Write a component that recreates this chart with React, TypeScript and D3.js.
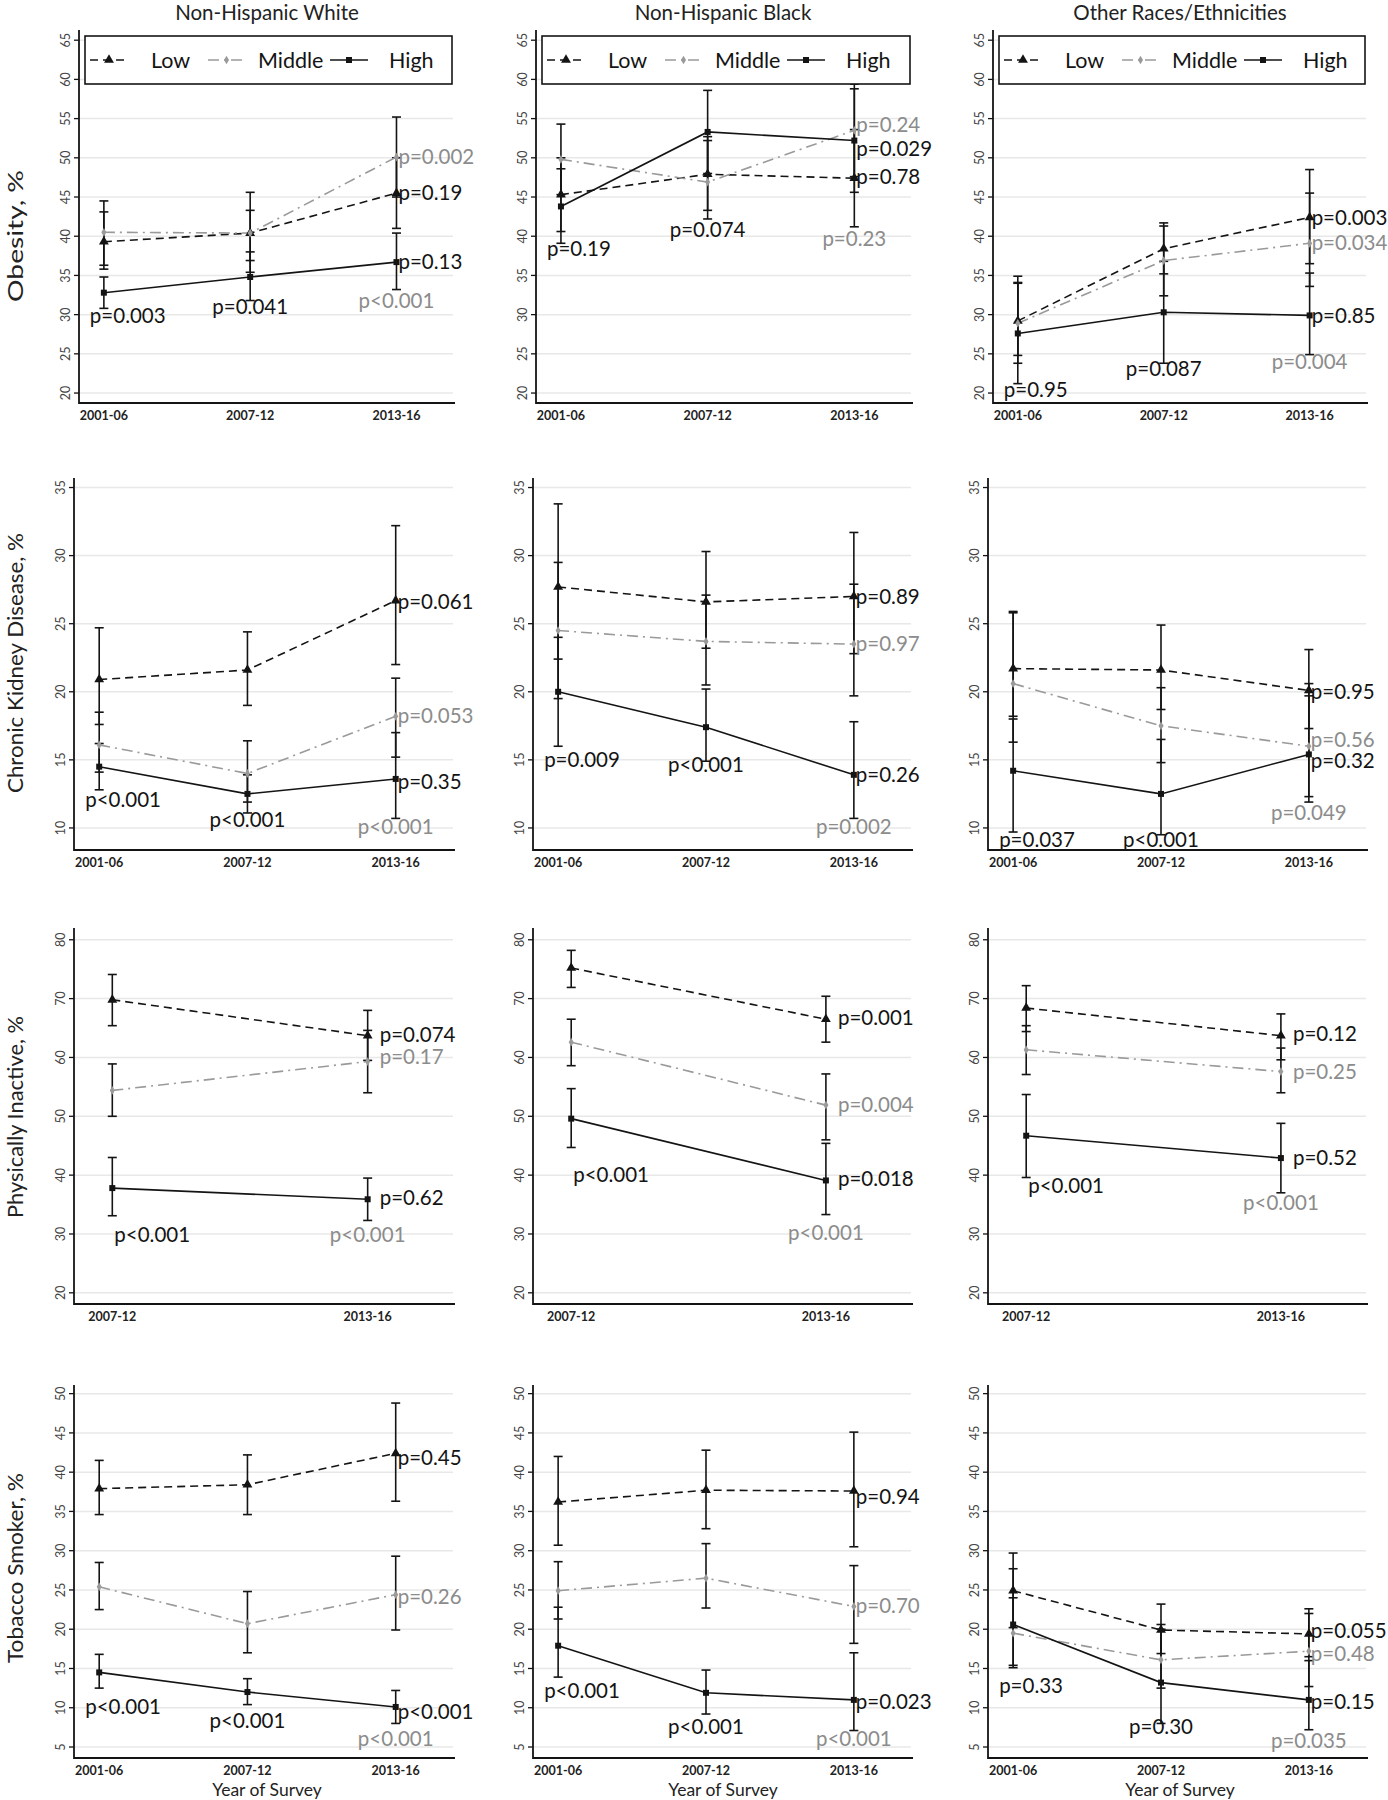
import React from 'react';
import * as d3 from 'd3';

type Triple = [number, number, number]; // [estimate, lower CI, upper CI]

// ---------- categories / labels ----------
const periodsAll = ['2001-06', '2007-12', '2013-16'];
const periodsPA = ['2007-12', '2013-16'];
const raceGroups = ['Non-Hispanic White', 'Non-Hispanic Black', 'Other Races/Ethnicities'];
const outcomeLabels = ['Obesity, %', 'Chronic Kidney Disease, %', 'Physically Inactive, %', 'Tobacco Smoker, %'];
const incomeLevels = ['Low', 'Middle', 'High'];
const xAxisTitle = 'Year of Survey';

// ---------- y tick labels per outcome ----------
const yTicksObesity = [20, 25, 30, 35, 40, 45, 50, 55, 60, 65];
const yTicksCKD = [10, 15, 20, 25, 30, 35];
const yTicksInactive = [20, 30, 40, 50, 60, 70, 80];
const yTicksSmoker = [5, 10, 15, 20, 25, 30, 35, 40, 45, 50];

// ---------- Obesity ----------
const obWhiteLow: Triple[] = [[39.3, 35.8, 43.1], [40.4, 36.9, 43.3], [45.5, 41.0, 50.0]];
const obWhiteMid: Triple[] = [[40.5, 36.3, 44.5], [40.4, 35.4, 45.6], [50.1, 45.0, 55.2]];
const obWhiteHigh: Triple[] = [[32.8, 30.8, 34.8], [34.8, 31.8, 38.0], [36.7, 33.2, 40.4]];
const obWhiteTrendP = ['p=0.19', 'p=0.002', 'p=0.13'];
const obWhiteTrendAt = [45.5, 50.1, 36.7];
const obWhiteGapP = ['p=0.003', 'p=0.041', 'p<0.001'];
const obWhiteGapAt = [29.9, 31.0, 31.8];

const obBlackLow: Triple[] = [[45.3, 40.6, 50.0], [47.9, 43.3, 52.7], [47.4, 41.2, 53.6]];
const obBlackMid: Triple[] = [[49.8, 45.3, 54.3], [46.9, 42.2, 52.2], [53.5, 47.6, 59.4]];
const obBlackHigh: Triple[] = [[43.8, 39.1, 48.6], [53.3, 48.0, 58.6], [52.2, 45.6, 58.8]];
const obBlackTrendP = ['p=0.78', 'p=0.24', 'p=0.029'];
const obBlackTrendAt = [47.6, 54.2, 51.2];
const obBlackGapP = ['p=0.19', 'p=0.074', 'p=0.23'];
const obBlackGapAt = [38.4, 40.8, 39.7];

const obOtherLow: Triple[] = [[29.2, 24.8, 34.9], [38.4, 35.2, 41.7], [42.4, 36.5, 48.5]];
const obOtherMid: Triple[] = [[28.9, 23.8, 34.1], [36.9, 32.4, 41.3], [39.1, 33.6, 45.5]];
const obOtherHigh: Triple[] = [[27.6, 21.2, 34.0], [30.3, 23.8, 36.8], [29.9, 24.9, 35.3]];
const obOtherTrendP = ['p=0.003', 'p=0.034', 'p=0.85'];
const obOtherTrendAt = [42.3, 39.1, 29.9];
const obOtherGapP = ['p=0.95', 'p=0.087', 'p=0.004'];
const obOtherGapAt = [20.4, 23.1, 24.0];

// ---------- Chronic kidney disease ----------
const ckdWhiteLow: Triple[] = [[20.9, 17.6, 24.7], [21.6, 19.0, 24.4], [26.7, 22.0, 32.2]];
const ckdWhiteMid: Triple[] = [[16.1, 14.1, 18.5], [14.0, 11.9, 16.4], [18.2, 15.2, 21.0]];
const ckdWhiteHigh: Triple[] = [[14.5, 12.8, 16.2], [12.5, 11.1, 13.9], [13.6, 10.7, 17.0]];
const ckdWhiteTrendP = ['p=0.061', 'p=0.053', 'p=0.35'];
const ckdWhiteTrendAt = [26.6, 18.2, 13.4];
const ckdWhiteGapP = ['p<0.001', 'p<0.001', 'p<0.001'];
const ckdWhiteGapAt = [12.1, 10.6, 10.1];

const ckdBlackLow: Triple[] = [[27.7, 22.4, 33.8], [26.6, 23.2, 30.3], [27.0, 22.8, 31.7]];
const ckdBlackMid: Triple[] = [[24.5, 19.5, 29.5], [23.7, 20.5, 27.1], [23.5, 19.7, 27.9]];
const ckdBlackHigh: Triple[] = [[20.0, 16.0, 24.0], [17.4, 14.9, 20.2], [13.9, 10.7, 17.8]];
const ckdBlackTrendP = ['p=0.89', 'p=0.97', 'p=0.26'];
const ckdBlackTrendAt = [27.0, 23.5, 13.9];
const ckdBlackGapP = ['p=0.009', 'p<0.001', 'p=0.002'];
const ckdBlackGapAt = [15.0, 14.6, 10.1];

const ckdOtherLow: Triple[] = [[21.7, 18.2, 25.9], [21.6, 18.7, 24.9], [20.1, 17.3, 23.1]];
const ckdOtherMid: Triple[] = [[20.6, 16.3, 25.8], [17.5, 14.8, 20.3], [16.0, 12.3, 19.7]];
const ckdOtherHigh: Triple[] = [[14.2, 9.7, 18.0], [12.5, 9.5, 16.5], [15.4, 11.9, 20.6]];
const ckdOtherTrendP = ['p=0.95', 'p=0.56', 'p=0.32'];
const ckdOtherTrendAt = [20.0, 16.5, 14.9];
const ckdOtherGapP = ['p=0.037', 'p<0.001', 'p=0.049'];
const ckdOtherGapAt = [9.1, 9.1, 11.1];

// ---------- Physically inactive (2007-12, 2013-16) ----------
const paWhiteLow: Triple[] = [[69.8, 65.4, 74.1], [63.7, 59.5, 68.0]];
const paWhiteMid: Triple[] = [[54.4, 50.0, 58.9], [59.3, 54.0, 64.6]];
const paWhiteHigh: Triple[] = [[37.8, 33.1, 43.0], [35.9, 32.3, 39.5]];
const paWhiteTrendP = ['p=0.074', 'p=0.17', 'p=0.62'];
const paWhiteTrendAt = [63.9, 60.1, 36.1];
const paWhiteGapP = ['p<0.001', 'p<0.001'];
const paWhiteGapAt = [29.9, 29.9];

const paBlackLow: Triple[] = [[75.2, 71.9, 78.2], [66.5, 62.6, 70.4]];
const paBlackMid: Triple[] = [[62.6, 58.6, 66.5], [51.9, 46.0, 57.2]];
const paBlackHigh: Triple[] = [[49.6, 44.7, 54.7], [39.1, 33.3, 45.4]];
const paBlackTrendP = ['p=0.001', 'p=0.004', 'p=0.018'];
const paBlackTrendAt = [66.7, 52.0, 39.3];
const paBlackGapP = ['p<0.001', 'p<0.001'];
const paBlackGapAt = [40.1, 30.2];

const paOtherLow: Triple[] = [[68.4, 64.4, 72.2], [63.7, 59.6, 67.4]];
const paOtherMid: Triple[] = [[61.3, 57.1, 65.4], [57.6, 54.0, 61.6]];
const paOtherHigh: Triple[] = [[46.7, 39.6, 53.7], [42.9, 37.0, 48.8]];
const paOtherTrendP = ['p=0.12', 'p=0.25', 'p=0.52'];
const paOtherTrendAt = [64.0, 57.6, 42.9];
const paOtherGapP = ['p<0.001', 'p<0.001'];
const paOtherGapAt = [38.1, 35.3];

// ---------- Tobacco smoker ----------
const smWhiteLow: Triple[] = [[37.9, 34.6, 41.5], [38.4, 34.6, 42.2], [42.4, 36.3, 48.8]];
const smWhiteMid: Triple[] = [[25.4, 22.5, 28.5], [20.7, 17.0, 24.8], [24.4, 19.9, 29.3]];
const smWhiteHigh: Triple[] = [[14.5, 12.5, 16.8], [12.0, 10.4, 13.7], [10.1, 8.0, 12.2]];
const smWhiteTrendP = ['p=0.45', 'p=0.26', 'p<0.001'];
const smWhiteTrendAt = [41.8, 24.1, 9.5];
const smWhiteGapP = ['p<0.001', 'p<0.001', 'p<0.001'];
const smWhiteGapAt = [10.1, 8.3, 6.0];

const smBlackLow: Triple[] = [[36.2, 30.7, 42.0], [37.7, 32.8, 42.8], [37.6, 30.5, 45.1]];
const smBlackMid: Triple[] = [[24.9, 21.3, 28.6], [26.5, 22.7, 30.9], [22.9, 18.2, 28.1]];
const smBlackHigh: Triple[] = [[17.9, 13.9, 22.8], [11.9, 9.2, 14.8], [11.0, 7.1, 17.0]];
const smBlackTrendP = ['p=0.94', 'p=0.70', 'p=0.023'];
const smBlackTrendAt = [36.9, 23.0, 10.8];
const smBlackGapP = ['p<0.001', 'p<0.001', 'p<0.001'];
const smBlackGapAt = [12.1, 7.6, 6.0];

const smOtherLow: Triple[] = [[24.9, 20.2, 29.7], [19.9, 16.9, 23.2], [19.4, 16.5, 22.6]];
const smOtherMid: Triple[] = [[19.5, 15.1, 24.0], [16.1, 12.5, 20.6], [17.2, 12.7, 22.0]];
const smOtherHigh: Triple[] = [[20.6, 15.4, 27.7], [13.2, 8.0, 20.0], [11.0, 7.2, 16.0]];
const smOtherTrendP = ['p=0.055', 'p=0.48', 'p=0.15'];
const smOtherTrendAt = [19.8, 16.9, 10.7];
const smOtherGapP = ['p=0.33', 'p=0.30', 'p=0.035'];
const smOtherGapAt = [12.8, 7.6, 5.8];

// ---------- panel table built from the arrays ----------
type PanelCfg = {
  row: number; col: number; periods: string[]; ticks: number[];
  series: Triple[][]; trendP: string[]; trendAt: number[]; gapP: string[]; gapAt: number[];
};
const rowPeriods = [periodsAll, periodsAll, periodsPA, periodsAll];
const rowTicks = [yTicksObesity, yTicksCKD, yTicksInactive, yTicksSmoker];
const panelData: [Triple[][], string[], number[], string[], number[]][][] = [
  [
    [[obWhiteLow, obWhiteMid, obWhiteHigh], obWhiteTrendP, obWhiteTrendAt, obWhiteGapP, obWhiteGapAt],
    [[obBlackLow, obBlackMid, obBlackHigh], obBlackTrendP, obBlackTrendAt, obBlackGapP, obBlackGapAt],
    [[obOtherLow, obOtherMid, obOtherHigh], obOtherTrendP, obOtherTrendAt, obOtherGapP, obOtherGapAt],
  ],
  [
    [[ckdWhiteLow, ckdWhiteMid, ckdWhiteHigh], ckdWhiteTrendP, ckdWhiteTrendAt, ckdWhiteGapP, ckdWhiteGapAt],
    [[ckdBlackLow, ckdBlackMid, ckdBlackHigh], ckdBlackTrendP, ckdBlackTrendAt, ckdBlackGapP, ckdBlackGapAt],
    [[ckdOtherLow, ckdOtherMid, ckdOtherHigh], ckdOtherTrendP, ckdOtherTrendAt, ckdOtherGapP, ckdOtherGapAt],
  ],
  [
    [[paWhiteLow, paWhiteMid, paWhiteHigh], paWhiteTrendP, paWhiteTrendAt, paWhiteGapP, paWhiteGapAt],
    [[paBlackLow, paBlackMid, paBlackHigh], paBlackTrendP, paBlackTrendAt, paBlackGapP, paBlackGapAt],
    [[paOtherLow, paOtherMid, paOtherHigh], paOtherTrendP, paOtherTrendAt, paOtherGapP, paOtherGapAt],
  ],
  [
    [[smWhiteLow, smWhiteMid, smWhiteHigh], smWhiteTrendP, smWhiteTrendAt, smWhiteGapP, smWhiteGapAt],
    [[smBlackLow, smBlackMid, smBlackHigh], smBlackTrendP, smBlackTrendAt, smBlackGapP, smBlackGapAt],
    [[smOtherLow, smOtherMid, smOtherHigh], smOtherTrendP, smOtherTrendAt, smOtherGapP, smOtherGapAt],
  ],
];
const panels: PanelCfg[] = [];
panelData.forEach((rowArr, r) =>
  rowArr.forEach(([series, trendP, trendAt, gapP, gapAt], c) =>
    panels.push({ row: r, col: c, periods: rowPeriods[r], ticks: rowTicks[r], series, trendP, trendAt, gapP, gapAt })
  )
);

// ---------- layout & style ----------
const W = 1388;
const H = 1800;
const FONT = 'Lato, "Open Sans", "DejaVu Sans", sans-serif';
const COL_RIGHT = [455, 913, 1368];
const COL_AXIS = [[79, 536, 993], [74, 533, 988], [74, 533, 988], [74, 533, 988]];
const ROW_BOX = [[30, 403], [478, 850], [928, 1304], [1385, 1758]];
const ROW_DOMAIN = [[18.73, 66.3], [8.38, 35.7], [18.1, 82], [3.6, 51.1]];
const ROW_YLABEL_CY = [236, 663, 1117, 1568];
const ROW_YLABEL_LEN = [132, 260, 202, 190];
const COL_TITLE_CX = [267, 723, 1180];

const BLACK = '#141414';
const GRAY_LINE = '#9a9a9a';
const GRAY_TEXT = '#8c8c8c';
const GRID = '#e8e8e8';
const seriesColor = [BLACK, GRAY_LINE, BLACK];
const seriesDash = ['8,5', '11,5,2,5', null];
const seriesSymbol = [d3.symbolTriangle, d3.symbolDiamond, d3.symbolSquare];
const seriesSymbolSize = [42, 22, 36];

function Marker({ i, x, y }: { i: number; x: number; y: number }) {
  const path = d3.symbol().type(seriesSymbol[i]).size(seriesSymbolSize[i])() as string;
  return <path d={path} transform={`translate(${x},${y})`} fill={seriesColor[i]} />;
}

function Legend({ axisX, right }: { axisX: number; right: number }) {
  const left = axisX + 6;
  const top = 36;
  const bot = 84;
  const cy = (top + bot) / 2;
  const items = [
    { x0: 5, x1: 43, tx: 66 },
    { x0: 123, x1: 160, tx: 173 },
    { x0: 245, x1: 283, tx: 304 },
  ];
  return (
    <g>
      <rect x={left} y={top} width={right - 3 - left} height={bot - top} fill="#fff" stroke={BLACK} strokeWidth={1.6} />
      {items.map((it, i) => (
        <g key={i}>
          <line x1={left + it.x0} x2={left + it.x1} y1={cy} y2={cy} stroke={seriesColor[i]}
            strokeWidth={1.6} strokeDasharray={seriesDash[i] ?? undefined} />
          <Marker i={i} x={left + (it.x0 + it.x1) / 2} y={cy} />
          <text x={left + it.tx} y={cy} dy="0.35em" fontSize={21.5} fill={BLACK} fontFamily={FONT}>
            {incomeLevels[i]}
          </text>
        </g>
      ))}
    </g>
  );
}

function Panel({ cfg }: { cfg: PanelCfg }) {
  const { row, col, periods, ticks, series, trendP, trendAt, gapP, gapAt } = cfg;
  const axisX = COL_AXIS[row][col];
  const right = COL_RIGHT[col];
  const [top, bottom] = ROW_BOX[row];
  const n = periods.length;
  const y = d3.scaleLinear().domain(ROW_DOMAIN[row]).range([bottom, top]);
  const x = d3.scaleLinear().domain(n === 3 ? [-0.17, 2.4] : [-0.15, 1.342]).range([axisX, right]);
  const line = d3.line<Triple>().x((_, i) => x(i)).y((d) => y(d[0]));
  const trendDx = row === 2 ? 12 : 2;
  const cap = 4.5;

  return (
    <g>
      {/* gridlines */}
      {ticks.map((t) => (
        <line key={'g' + t} x1={axisX + 1} x2={right - 2} y1={y(t)} y2={y(t)} stroke={GRID} strokeWidth={1.5} />
      ))}
      {/* y ticks & labels */}
      {ticks.map((t) => (
        <g key={'t' + t}>
          <line x1={axisX - 5} x2={axisX} y1={y(t)} y2={y(t)} stroke={BLACK} strokeWidth={1.3} />
          <text transform={`translate(${axisX - 13},${y(t)}) rotate(-90)`} textAnchor="middle" dy="0.35em"
            fontSize={12.5} fill="#444" fontFamily={FONT}>{t}</text>
        </g>
      ))}
      {/* axes */}
      <line x1={axisX} x2={axisX} y1={top} y2={bottom + 1} stroke={BLACK} strokeWidth={1.8} />
      <line x1={axisX} x2={right} y1={bottom} y2={bottom} stroke={BLACK} strokeWidth={1.8} />
      {/* x tick labels */}
      {periods.map((p, i) => (
        <text key={p} x={x(i)} y={bottom + 17} textAnchor="middle" fontSize={12.5} fontWeight="bold"
          fill="#222" fontFamily={FONT}>{p}</text>
      ))}
      {/* error bars */}
      {series.map((s, si) =>
        s.map((d, i) => (
          <g key={`e${si}-${i}`} stroke={BLACK} strokeWidth={1.6}>
            <line x1={x(i)} x2={x(i)} y1={y(d[1])} y2={y(d[2])} />
            <line x1={x(i) - cap} x2={x(i) + cap} y1={y(d[1])} y2={y(d[1])} />
            <line x1={x(i) - cap} x2={x(i) + cap} y1={y(d[2])} y2={y(d[2])} />
          </g>
        ))
      )}
      {/* lines */}
      {series.map((s, si) => (
        <path key={'l' + si} d={line(s) as string} fill="none" stroke={seriesColor[si]} strokeWidth={1.6}
          strokeDasharray={seriesDash[si] ?? undefined} />
      ))}
      {/* markers */}
      {series.map((s, si) => s.map((d, i) => <Marker key={`m${si}-${i}`} i={si} x={x(i)} y={y(d[0])} />))}
      {/* trend p-values at the right of the last period */}
      {trendP.map((p, si) => (
        <text key={'tp' + si} x={x(n - 1) + trendDx} y={y(trendAt[si])} dy="0.35em" fontSize={20.5}
          fill={si === 1 ? GRAY_TEXT : BLACK} fontFamily={FONT}>{p}</text>
      ))}
      {/* between-group p-values beneath each period */}
      {gapP.map((p, i) => {
        const first = i === 0;
        const tx = first ? (row === 2 ? x(0) + 2 : x(0) - 14) : x(i);
        return (
          <text key={'gp' + i} x={tx} y={y(gapAt[i])} dy="0.35em" fontSize={20.5}
            textAnchor={first ? 'start' : 'middle'} fill={i === n - 1 ? GRAY_TEXT : BLACK} fontFamily={FONT}>{p}</text>
        );
      })}
      {row === 0 && <Legend axisX={axisX} right={right} />}
    </g>
  );
}

export default function App() {
  return (
    <svg width={W} height={H} viewBox={`0 0 ${W} ${H}`}
      style={{ position: 'absolute', left: 0, top: 0, display: 'block', background: '#fff' }}>
      <rect x={0} y={0} width={W} height={H} fill="#fff" />
      {raceGroups.map((g, c) => (
        <text key={g} x={COL_TITLE_CX[c]} y={20} textAnchor="middle" fontSize={20.5} fill="#222" fontFamily={FONT}>{g}</text>
      ))}
      {outcomeLabels.map((o, r) => (
        <text key={o} transform={`translate(15,${ROW_YLABEL_CY[r]}) rotate(-90)`} textAnchor="middle" dy="0.35em"
          fontSize={21.5} fill="#222" fontFamily={FONT} textLength={ROW_YLABEL_LEN[r]}
          lengthAdjust="spacingAndGlyphs">{o}</text>
      ))}
      {panels.map((p) => <Panel key={`${p.row}-${p.col}`} cfg={p} />)}
      {raceGroups.map((g, c) => (
        <text key={'xt' + g} x={COL_TITLE_CX[c]} y={1796} textAnchor="middle" fontSize={17.5} fill="#222" fontFamily={FONT}>{xAxisTitle}</text>
      ))}
    </svg>
  );
}
